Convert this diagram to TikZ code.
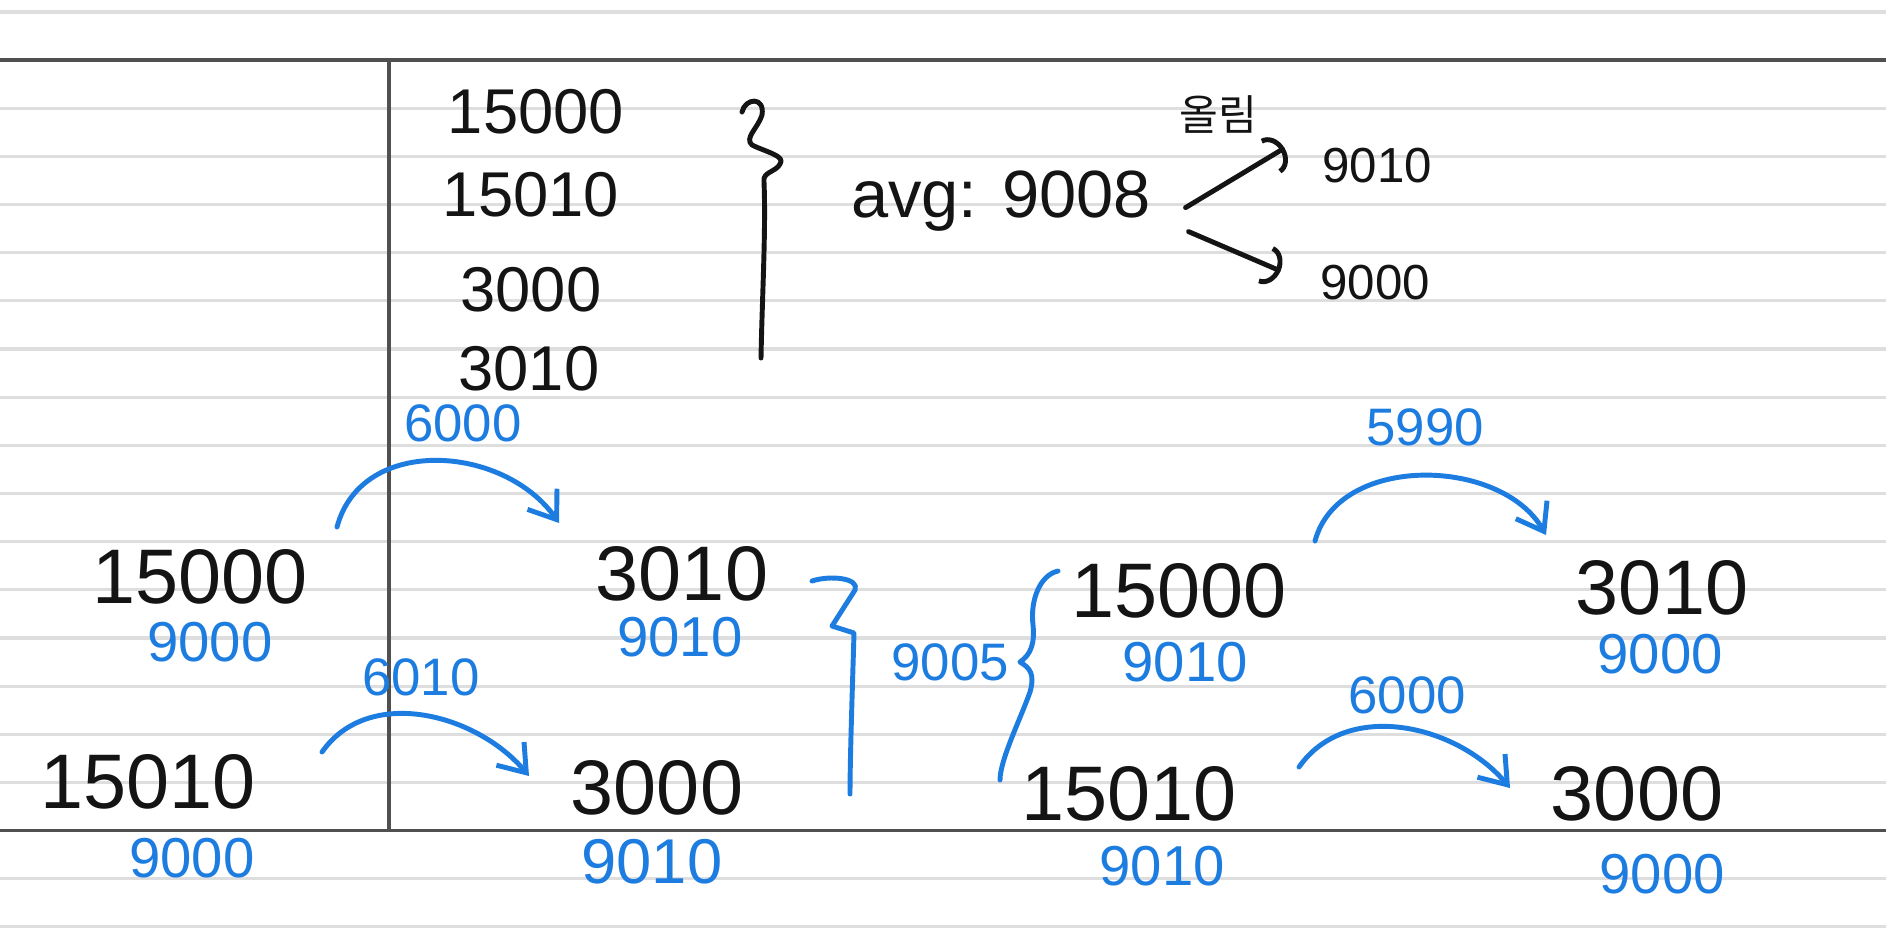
\documentclass[tikz,border=0pt]{standalone}
\usepackage{fontspec}
\setmainfont{Liberation Sans}
\newfontfamily\krfont{Noto Sans CJK KR}
\usepackage{tikz}
\usetikzlibrary{arrows.meta}
\definecolor{inkblue}{HTML}{1C7CE0}
\definecolor{inkblack}{HTML}{141414}
\definecolor{paperline}{HTML}{DEDEDE}
\definecolor{marginline}{HTML}{505050}

\begin{document}
\begin{tikzpicture}[x=0.01cm,y=0.01cm,every node/.style={inner sep=0pt},
  num/.style={text=inkblack,font=\fontsize{22}{22}\selectfont},
  lst/.style={text=inkblack,font=\fontsize{18}{18}\selectfont},
  val/.style={text=inkblue,font=\fontsize{16}{16}\selectfont},
  tag/.style={text=inkblue,font=\fontsize{15}{15}\selectfont},
  ink/.style={line width=1.4pt,line cap=round,line join=round},
  hop/.style={ink,draw=inkblue,-{Straight Barb[length=2.5mm,width=3.6mm]}},
  fork/.style={ink,draw=inkblack,-{Arc Barb[length=1.6mm,width=4mm]}}]
  \useasboundingbox[fill=white] (0,0) rectangle (1886,-939);
  \foreach \k in {0,...,19} \draw[paperline,line width=0.9pt] (0,{-12-48.15*\k}) -- (1886,{-12-48.15*\k});
  \draw[marginline,line width=1.1pt] (0,-60.2) -- (1886,-60.2) (0,-830.5) -- (1886,-830.5) (389,-60.2) -- (389,-830.5);
  % list and average
  \node[lst] (t1) at (536,-112) {15000};
  \node[lst] (t2) at (531,-195) {15010};
  \node[lst] (t3) at (531,-290) {3000};
  \node[lst] (t4) at (529,-369) {3010};
  \draw[ink,draw=inkblack] (742,-112) .. controls (745,-98) and (765,-96) .. (762,-115) .. controls (758,-128) and (744,-138) .. (752,-145) .. controls (766,-152) and (786,-156) .. (780,-164) .. controls (776,-172) and (762,-172) .. (764,-182) .. controls (766,-230) and (762,-300) .. (761,-358);
  \node[anchor=base,text=inkblack,font=\fontsize{19}{19}\selectfont] (avg) at (1001,-217) {avg: 9008};
  \node[text=inkblack,font=\krfont\fontsize{12}{12}\selectfont] (roundup) at (1218,-115) {올림};
  \node[text=inkblack,font=\fontsize{14}{14}\selectfont] (hi) at (1377,-166) {9010};
  \node[text=inkblack,font=\fontsize{14}{14}\selectfont] (lo) at (1375,-283) {9000};
  \draw[fork] ([shift={(34,-7)}]avg.east) -- ([shift={(-37,18)}]hi.west);
  \draw[fork] ([shift={(37,-31)}]avg.east) -- ([shift={(-39,12)}]lo.west);
  % swaps
  \node[num] (L1) at (200,-577) {15000};
  \node[val] (L1v) at (210,-642) {9000};
  \node[num] (L2) at (148,-782) {15010};
  \node[val] (L2v) at (192,-858) {9000};
  \node[num] (M1) at (682,-574) {3010};
  \node[val] (M1v) at (680,-637) {9010};
  \node[num] (M2) at (657,-788) {3000};
  \node[val,font=\fontsize{18}{18}\selectfont] (M2v) at (652,-862) {9010};
  \node[num] (R1) at (1179,-591) {15000};
  \node[val] (R1v) at (1185,-662) {9010};
  \node[num] (R2) at (1129,-794) {15010};
  \node[val] (R2v) at (1162,-866) {9010};
  \node[num] (S1) at (1662,-588) {3010};
  \node[val] (S1v) at (1660,-654) {9000};
  \node[num] (S2) at (1637,-794) {3000};
  \node[val] (S2v) at (1662,-874) {9000};
  \node[tag] (d1) at (463,-423) {6000};
  \node[tag] (d2) at (421,-677) {6010};
  \node[tag] (d3) at (1425,-427) {5990};
  \node[tag] (d4) at (1407,-695) {6000};
  \node[tag] (mean) at (950,-662) {9005};
  \draw[hop] ([shift={(137,50)}]L1.center) to[out=75,in=125,looseness=1.1] ([shift={(-123,51)}]M1.center);
  \draw[hop] ([shift={(174,30)}]L2.center) to[out=55,in=130] ([shift={(-128,12)}]M2.center);
  \draw[hop] ([shift={(136,50)}]R1.center) to[out=75,in=120] ([shift={(-116,53)}]S1.center);
  \draw[hop] ([shift={(170,27)}]R2.center) to[out=55,in=130] ([shift={(-127,6)}]S2.center);
  \draw[ink,draw=inkblue] (812,-581) .. controls (830,-575) and (860,-578) .. (855,-590) -- (832,-626) -- (854,-633) .. controls (852,-700) and (850,-760) .. (850,-794);
  \draw[ink,draw=inkblue] (1058,-571) .. controls (1040,-575) and (1030,-600) .. (1033,-625) .. controls (1035,-645) and (1030,-655) .. (1020,-662) .. controls (1030,-668) and (1035,-674) .. (1030,-692) .. controls (1020,-720) and (1000,-760) .. (1000,-780);
\end{tikzpicture}
\end{document}
